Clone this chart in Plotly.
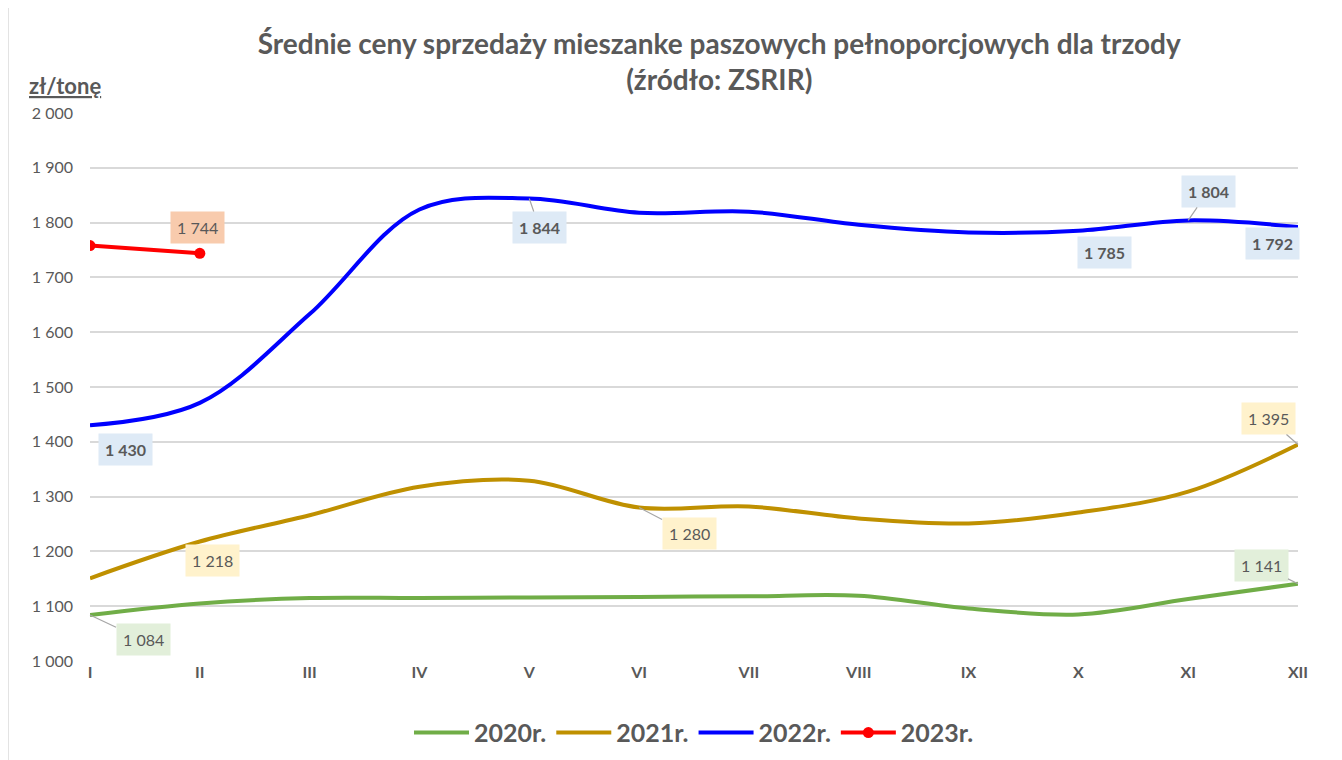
import plotly.graph_objects as go

months = ["I", "II", "III", "IV", "V", "VI", "VII", "VIII", "IX", "X", "XI", "XII"]

ceny_2020 = [1084, 1105, 1115, 1115, 1116, 1117, 1118, 1119, 1096, 1085, 1113, 1141]
ceny_2021 = [1151, 1218, 1266, 1318, 1329, 1280, 1282, 1260, 1251, 1271, 1309, 1395]
ceny_2022 = [1430, 1471, 1633, 1824, 1844, 1818, 1820, 1796, 1782, 1785, 1804, 1792]
ceny_2023 = [1758, 1744]

GRAY = "#595959"
FONT = "Lato, 'Open Sans', sans-serif"

fig = go.Figure()

series = [
    ("2020r.", ceny_2020, "#70AD47"),
    ("2021r.", ceny_2021, "#BF9000"),
    ("2022r.", ceny_2022, "#0000FF"),
]
for name, vals, col in series:
    fig.add_trace(go.Scatter(
        x=months[:len(vals)], y=vals, name=f"<b>{name}</b>", mode="lines",
        line=dict(color=col, width=4, shape="spline", smoothing=1.0),
    ))

fig.add_trace(go.Scatter(
    x=months[:len(ceny_2023)], y=ceny_2023, name="<b>2023r.</b>", mode="lines+markers",
    line=dict(color="#FF0000", width=4),
    marker=dict(color="#FF0000", size=11),
))

# etykiety danych (seria, indeks miesiaca, przesuniecie, linia wiodaca)
etykiety = [
    (ceny_2020, 0, 53, 25, True, "#E2EFDA", False),
    (ceny_2020, 11, -37, -18, True, "#E2EFDA", False),
    (ceny_2021, 1, 13, 19, False, "#FFF2CC", False),
    (ceny_2021, 5, 50, 26, True, "#FFF2CC", False),
    (ceny_2021, 11, -30, -26, True, "#FFF2CC", False),
    (ceny_2022, 0, 35, 24, False, "#DEEAF6", True),
    (ceny_2022, 4, 10, 29, True, "#DEEAF6", True),
    (ceny_2022, 9, 26, 22, False, "#DEEAF6", True),
    (ceny_2022, 10, 20, -29, True, "#DEEAF6", True),
    (ceny_2022, 11, -26, 17, False, "#DEEAF6", True),
    (ceny_2023, 1, -2, -26, False, "#F8CBAD", False),
]
for vals, i, dx, dy, leader, bg, bold in etykiety:
    txt = f"{vals[i]:,}".replace(",", " ")
    if bold:
        txt = f"<b>{txt}</b>"
    common = dict(
        x=months[i], y=vals[i], text=txt, bgcolor=bg, borderpad=6,
        font=dict(size=16, color=GRAY, family=FONT),
    )
    if leader:
        fig.add_annotation(showarrow=True, ax=dx, ay=dy, arrowhead=0,
                           arrowwidth=1.2, arrowcolor="#A6A6A6", standoff=0, **common)
    else:
        fig.add_annotation(showarrow=False, xshift=dx, yshift=-dy, **common)

fig.add_annotation(
    text="<b><u>zł/tonę</u></b>", xref="paper", yref="paper",
    x=0.011, y=1.022, xanchor="right", yanchor="bottom", showarrow=False,
    font=dict(size=22, color=GRAY, family=FONT),
)

# ramka wykresu po lewej
fig.add_shape(type="line", xref="paper", yref="paper",
              x0=-0.0679, x1=-0.0679, y0=-0.2, y1=1.25,
              line=dict(color="#D9D9D9", width=1.5))

fig.update_layout(
    width=1342, height=760,
    margin=dict(l=82, r=52, t=105, b=105),
    paper_bgcolor="white", plot_bgcolor="white",
    separators=", ",
    font=dict(family=FONT, color=GRAY),
    title=dict(
        text="<b>Średnie ceny sprzedaży mieszanke paszowych pełnoporcjowych dla trzody<br>(źródło: ZSRIR)</b>",
        x=0.53, xref="container", xanchor="center", y=0.94, yanchor="top",
        font=dict(size=28, color=GRAY, family=FONT),
    ),
    xaxis=dict(
        type="category", range=[0, 11], showgrid=False, zeroline=False,
        showline=False, ticks="", tickfont=dict(size=16, color=GRAY, family=FONT),
        tickprefix="<b>", ticksuffix="</b>",
    ),
    yaxis=dict(
        range=[1000, 2000], dtick=100, tickformat=",d", showgrid=True,
        gridcolor="#D9D9D9", gridwidth=1.5, zeroline=False, showline=False,
        tickfont=dict(size=16, color=GRAY, family=FONT), ticklabelstandoff=16,
    ),
    legend=dict(
        orientation="h", x=0.5, xanchor="center", y=-0.131, yanchor="middle",
        font=dict(size=25, color=GRAY, family=FONT), itemwidth=55,
        traceorder="normal",
    ),
    showlegend=True,
)

fig.write_html("out.html")
